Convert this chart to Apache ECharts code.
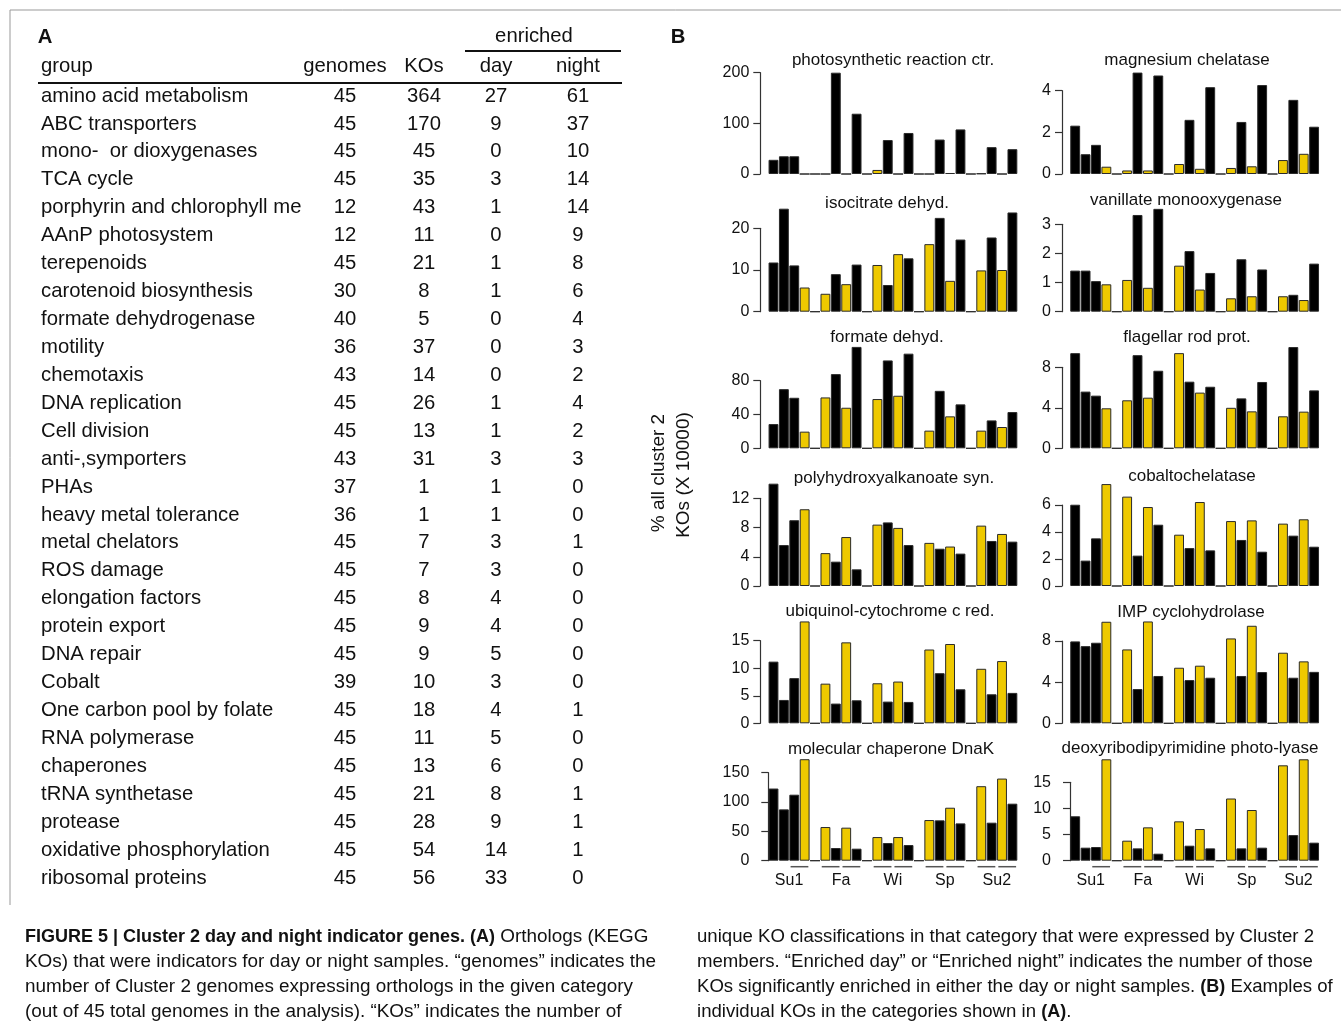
<!DOCTYPE html>
<html><head><meta charset="utf-8">
<script src="https://cdn.jsdelivr.net/npm/echarts@6/dist/echarts.min.js"></script>
<style>html,body{margin:0;padding:0;background:#fff}#c{width:1341px;height:1027px}</style>
</head><body><div id="c"></div>
<script>
// ---------- Panel A data ----------
const groups = ['amino acid metabolism','ABC transporters','mono-  or dioxygenases','TCA cycle','porphyrin and chlorophyll me','AAnP photosystem','terepenoids','carotenoid biosynthesis','formate dehydrogenase','motility','chemotaxis','DNA replication','Cell division','anti-,symporters','PHAs','heavy metal tolerance','metal chelators','ROS damage','elongation factors','protein export','DNA repair','Cobalt','One carbon pool by folate','RNA polymerase','chaperones','tRNA synthetase','protease','oxidative phosphorylation','ribosomal proteins'];
const genomes = [45,45,45,45,12,12,45,30,40,36,43,45,45,43,37,36,45,45,45,45,45,39,45,45,45,45,45,45,45];
const kos = [364,170,45,35,43,11,21,8,5,37,14,26,13,31,1,1,7,7,8,9,9,10,18,11,13,21,28,54,56];
const enrichedDay = [27,9,0,3,1,0,1,1,0,0,0,1,1,3,1,1,3,3,4,4,5,3,4,5,6,8,9,14,33];
const enrichedNight = [61,37,10,14,14,9,8,6,4,3,2,4,2,3,0,0,1,0,0,0,0,0,1,0,0,1,1,1,0];

// ---------- Panel B data ----------
const seasons = ['Su1','Fa','Wi','Sp','Su2'];
const sampleIsDay = [0,0,0,1, 1,0,1,0, 1,0,1,0, 1,0,1,0, 1,0,1,0];
const chartTitles = ['photosynthetic reaction ctr.','magnesium chelatase','isocitrate dehyd.','vanillate monooxygenase','formate dehyd.','flagellar rod prot.','polyhydroxyalkanoate syn.','cobaltochelatase','ubiquinol-cytochrome c red.','IMP cyclohydrolase','molecular chaperone DnaK','deoxyribodipyrimidine photo-lyase'];
const yMaxTick = [200,4,20,3,80,8,12,6,15,8,150,15];
const yTickStep = [100,2,10,1,40,4,4,2,5,4,50,5];
const photosyntheticReactionCtr = [28,35,35,0, 0,200,0,119, 8,67,0,81, 0,68,2,88, 1,53,0,49];
const magnesiumChelatase = [2.32,0.95,1.4,0.35, 0.17,4.87,0.17,4.73, 0.48,2.6,0.25,4.17, 0.29,2.5,0.37,4.27, 0.67,3.56,0.97,2.27];
const isocitrateDehyd = [11.8,24.7,11.1,5.8, 4.3,9.0,6.6,11.3, 11.2,6.4,13.8,12.8, 16.2,22.5,7.4,17.3, 9.9,17.8,10.0,23.8];
const vanillateMonooxygenase = [1.41,1.41,1.05,0.94, 1.09,3.32,0.82,3.53, 1.58,2.08,0.76,1.33, 0.46,1.8,0.53,1.45, 0.53,0.58,0.4,1.65];
const formateDehyd = [28.7,70,59.8,19.7, 60.2,87.8,48,120, 58.3,104,62.2,112, 20.9,68,37.8,52, 20.9,33,25.2,42.9];
const flagellarRodProt = [9.4,5.6,5.2,3.95, 4.74,9.2,5.0,7.66, 9.4,6.58,5.5,6.08, 4.0,4.93,3.65,6.55, 3.16,10.0,3.62,5.72];
const polyhydroxyalkanoateSyn = [14.0,5.6,9.0,10.5, 4.5,3.33,6.7,2.28, 8.4,8.7,7.95,5.6, 5.9,5.1,5.4,4.43, 8.26,6.16,7.12,6.07];
const cobaltochelatase = [6.02,1.88,3.53,7.55, 6.62,2.25,5.85,4.54, 3.8,2.81,6.22,2.64, 4.81,3.41,4.86,2.54, 4.62,3.73,4.94,2.91];
const ubiquinolCytochromeCRed = [11.2,4.24,8.2,18.5, 7.2,3.58,14.7,4.18, 7.27,3.94,7.58,3.88, 13.4,9.1,14.4,6.18, 9.9,5.27,11.3,5.52];
const impCyclohydrolase = [7.96,7.5,7.83,9.87, 7.18,3.33,9.9,4.6, 5.4,4.2,5.6,4.43, 8.25,4.6,9.48,4.98, 6.86,4.43,6.02,5.0];
const molecularChaperoneDnaK = [123,87.5,112.5,173, 57.4,21.6,56.3,20.5, 40.3,30.1,40.3,26.7, 69.3,68.8,90.3,63.6, 127,64.8,140,97.2];
const deoxyribodipyrimidinePhotoLyase = [8.5,2.49,2.62,19.4, 3.83,2.36,6.38,1.34, 7.53,2.87,6.06,2.36, 11.9,2.36,9.7,2.49, 18.25,4.9,19.4,3.45];
const seasonLabelPos = [2,7,12,17,22];
const underlineSpans = [[2,4],[5,7],[7,9],[10,12],[12,14],[15,17],[17,19],[20,22],[22,24]];

// ---------- caption ----------
const captionLeft = [
  '{b|FIGURE 5 | Cluster 2 day and night indicator genes. (A)} Orthologs (KEGG',
  'KOs) that were indicators for day or night samples. “genomes” indicates the',
  'number of Cluster 2 genomes expressing orthologs in the given category',
  '(out of 45 total genomes in the analysis). “KOs” indicates the number of'
];
const captionRight = [
  'unique KO classifications in that category that were expressed by Cluster 2',
  'members. “Enriched day” or “Enriched night” indicates the number of those',
  'KOs significantly enriched in either the day or night samples. {b|(B)} Examples of',
  'individual KOs in the categories shown in {b|(A)}.'
];

// ---------- layout / style ----------
const FONT = '"Liberation Sans", Arial, Helvetica, sans-serif';
const GOLD = '#EEC900', BLACK = '#000000', EDGE = '#2a2a2a';
const chartSeries = [photosyntheticReactionCtr, magnesiumChelatase, isocitrateDehyd, vanillateMonooxygenase, formateDehyd, flagellarRodProt, polyhydroxyalkanoateSyn, cobaltochelatase, ubiquinolCytochromeCRed, impCyclohydrolase, molecularChaperoneDnaK, deoxyribodipyrimidinePhotoLyase];
const gridTop = [72.7,90.7,228.3,224.3,380.7,367.3,498.3,505,640.7,641,772.7,782.3];
const gridBase = [174,174,311.7,311.7,448.3,448.3,586,586,723.3,723.3,860.7,860.7];
const colLeft = [768.3, 1070];
const plotW = 249.3;
const titleX = [893,1187,887,1186,887,1187,894,1192,890,1191,891,1190];
const titleY = [60,60,203,200,337,337,478,476,611,612,749,748];

function buildSlots(vals) {
  const out = [];
  for (let g = 0; g < seasons.length; g++) {
    if (g > 0) out.push({ value: 0, itemStyle: { color: BLACK } });
    for (let k = 0; k < 4; k++) {
      const idx = g * 4 + k;
      out.push({ value: vals[idx], itemStyle: { color: sampleIsDay[idx] ? GOLD : BLACK } });
    }
  }
  return out;
}

const grids = [], xAxes = [], yAxes = [], series = [], graphics = [];
chartSeries.forEach((vals, i) => {
  const col = i % 2;
  grids.push({ left: colLeft[col], top: gridTop[i], width: plotW, height: gridBase[i] - gridTop[i], outerBoundsMode: 'none', containLabel: false });
  xAxes.push({ type: 'category', gridIndex: i, data: Array.from({ length: 24 }, (_, k) => 's' + k), show: false, boundaryGap: true });
  yAxes.push({
    type: 'value', gridIndex: i, min: 0, max: yMaxTick[i], interval: yTickStep[i], offset: 8,
    axisLine: { show: true, lineStyle: { color: '#333', width: 1.2 } },
    axisTick: { show: true, length: 7, lineStyle: { color: '#333', width: 1.2 } },
    splitLine: { show: false },
    axisLabel: { color: '#111', fontSize: 16, fontFamily: FONT, margin: 11 }
  });
  series.push({
    type: 'bar', xAxisIndex: i, yAxisIndex: i, data: buildSlots(vals), clip: false,
    barCategoryGap: '5%', itemStyle: { borderColor: EDGE, borderWidth: 1 }, animation: false,
    emphasis: { disabled: true }
  });
  graphics.push({ type: 'text', x: titleX[i], y: titleY[i], style: { text: chartTitles[i], fontSize: 17, fontFamily: FONT, fill: '#111', textAlign: 'center', textVerticalAlign: 'middle' } });
});
// bottom-row season axes and underlines
[10, 11].forEach((gi, j) => {
  const axIdx = xAxes.length;
  xAxes.push({
    type: 'value', gridIndex: gi, min: 0, max: 24, position: 'bottom',
    axisLine: { show: false }, axisTick: { show: false }, splitLine: { show: false },
    axisLabel: { show: true, customValues: seasonLabelPos, formatter: v => seasons[seasonLabelPos.indexOf(v)] || '', color: '#111', fontSize: 16, fontFamily: FONT, margin: 12 }
  });
  series.push({
    type: 'custom', xAxisIndex: axIdx, yAxisIndex: gi, data: underlineSpans, clip: false, animation: false,
    renderItem: (params, api) => {
      const a = api.coord([api.value(0), 0]);
      const b = api.coord([api.value(1), 0]);
      return { type: 'line', shape: { x1: a[0] + 1.5, y1: a[1] + 6, x2: b[0] - 1.5, y2: b[1] + 6 }, style: { stroke: '#555', lineWidth: 1.5 } };
    }
  });
});

// ---------- Panel A table graphics ----------
const TFS = 20.3;
const colX = { group: 41, genomes: 345, kos: 424, day: 496, night: 578 };
const headerY = 66, rowY0 = 96, rowStep = 27.93;
function txt(x, y, text, align, extra) {
  return Object.assign({ type: 'text', x, y, style: Object.assign({ text, fontSize: TFS, fontFamily: FONT, fill: '#111', textAlign: align, textVerticalAlign: 'middle' }, extra || {}) });
}
graphics.push(txt(45, 37, 'A', 'center', { fontWeight: 'bold' }));
graphics.push(txt(678, 37, 'B', 'center', { fontWeight: 'bold' }));
graphics.push(txt(534, 36, 'enriched', 'center'));
graphics.push(txt(colX.group, headerY, 'group', 'left'));
graphics.push(txt(colX.genomes, headerY, 'genomes', 'center'));
graphics.push(txt(colX.kos, headerY, 'KOs', 'center'));
graphics.push(txt(colX.day, headerY, 'day', 'center'));
graphics.push(txt(colX.night, headerY, 'night', 'center'));
graphics.push({ type: 'line', shape: { x1: 465, y1: 51, x2: 621, y2: 51 }, style: { stroke: '#111', lineWidth: 2 } });
graphics.push({ type: 'line', shape: { x1: 38, y1: 83, x2: 622, y2: 83 }, style: { stroke: '#111', lineWidth: 2 } });
groups.forEach((g, r) => {
  const y = rowY0 + r * rowStep;
  graphics.push(txt(colX.group, y, g, 'left'));
  graphics.push(txt(colX.genomes, y, String(genomes[r]), 'center'));
  graphics.push(txt(colX.kos, y, String(kos[r]), 'center'));
  graphics.push(txt(colX.day, y, String(enrichedDay[r]), 'center'));
  graphics.push(txt(colX.night, y, String(enrichedNight[r]), 'center'));
});
// y label of panel B
graphics.push({ type: 'text', x: 659, y: 473, rotation: Math.PI / 2, style: { text: '% all cluster 2', fontSize: 19, fontFamily: FONT, fill: '#111', textAlign: 'center', textVerticalAlign: 'middle' } });
graphics.push({ type: 'text', x: 684, y: 475, rotation: Math.PI / 2, style: { text: 'KOs (X 10000)', fontSize: 19, fontFamily: FONT, fill: '#111', textAlign: 'center', textVerticalAlign: 'middle' } });
// frame
graphics.push({ type: 'polyline', shape: { points: [[10, 905], [10, 10], [1341, 10]] }, style: { stroke: '#999', lineWidth: 1, fill: null } });
// caption
const capRichL = { b: { fontWeight: 'bold', fontSize: 18.0, fontFamily: FONT, fill: '#111' } };
const capRichR = { b: { fontWeight: 'bold', fontSize: 18.0, fontFamily: FONT, fill: '#111' } };
captionLeft.forEach((t, k) => graphics.push({ type: 'text', x: 25, y: 937 + k * 25, style: { text: t, rich: capRichL, fontSize: 18.9, fontFamily: FONT, fill: '#111', textAlign: 'left', textVerticalAlign: 'middle' } }));
captionRight.forEach((t, k) => graphics.push({ type: 'text', x: 697, y: 937 + k * 25, style: { text: t, rich: capRichR, fontSize: 18.6, fontFamily: FONT, fill: '#111', textAlign: 'left', textVerticalAlign: 'middle' } }));

const chart = echarts.init(document.getElementById('c'), null, { renderer: 'canvas' });
chart.setOption({
  backgroundColor: '#fff',
  animation: false,
  textStyle: { fontFamily: FONT },
  grid: grids, xAxis: xAxes, yAxis: yAxes, series: series,
  graphic: { elements: graphics }
});
</script></body></html>
